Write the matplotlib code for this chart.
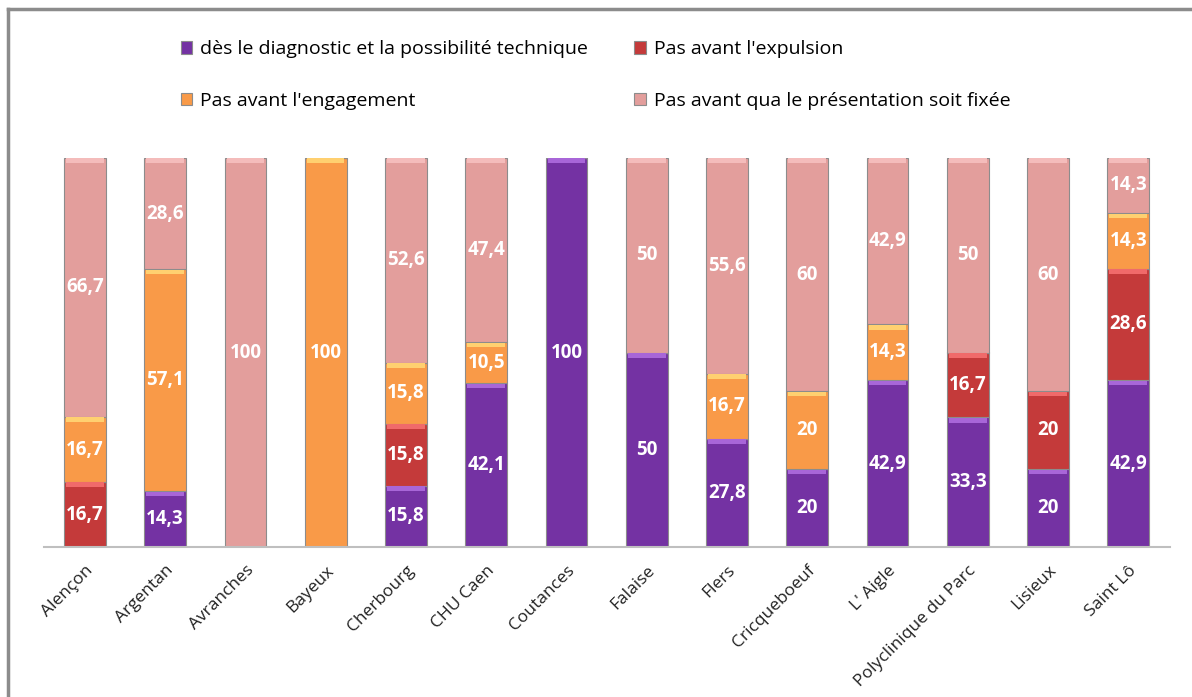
import matplotlib
matplotlib.use("Agg")
import matplotlib.pyplot as plt
from matplotlib.lines import Line2D
import numpy as np

# ---- data ------------------------------------------------------------------ #
SITES = ["Alençon", "Argentan", "Avranches", "Bayeux", "Cherbourg", "CHU Caen",
         "Coutances", "Falaise", "Flers", "Cricqueboeuf", "L' Aigle",
         "Polyclinique du Parc", "Lisieux", "Saint Lô"]
DIAG = [0, 14.3, 0, 0, 15.8, 42.1, 100, 50, 27.8, 20, 42.9, 33.3, 20, 42.9]
EXPULSION = [16.7, 0, 0, 0, 15.8, 0, 0, 0, 0, 0, 0, 16.7, 20, 28.6]
ENGAGEMENT = [16.7, 57.1, 0, 100, 15.8, 10.5, 0, 0, 16.7, 20, 14.3, 0, 0, 14.3]
PRESENTATION = [66.7, 28.6, 100, 0, 52.6, 47.4, 0, 50, 55.6, 60, 42.9, 50, 60, 14.3]

SERIES = [
    ("dès le diagnostic et la possibilité technique", DIAG, "#7432a3", "#a866d8"),
    ("Pas avant l'expulsion", EXPULSION, "#c43a3a", "#f06a6a"),
    ("Pas avant l'engagement", ENGAGEMENT, "#f99a48", "#ffd070"),
    ("Pas avant qua le présentation soit fixée", PRESENTATION, "#e39e9c", "#f4bcbb"),
]

plt.rcParams["font.family"] = ["Open Sans", "DejaVu Sans"]

fig = plt.figure(figsize=(11.92, 6.97), dpi=100)
ax = fig.add_axes([44 / 1192, 1 - 547 / 697, (1170 - 44) / 1192, (547 - 158) / 697])

x = np.arange(len(SITES))
W = 0.52
bottom = np.zeros(len(SITES))
for label, vals, col, light in SERIES:
    vals = np.array(vals, dtype=float)
    ax.bar(x, vals, W, bottom=bottom, color=col, edgecolor="#8c8c8c",
           linewidth=0.8, label=label, zorder=2)
    # light bevel strip at the top of each segment
    ax.bar(x, np.where(vals > 0, 1.2, 0), W * 0.9, bottom=bottom + vals - 1.3,
           color=light, linewidth=0, zorder=3)
    for xi, v, b in zip(x, vals, bottom):
        if v > 0:
            ax.text(xi, b + v / 2, f"{v:g}".replace(".", ","), ha="center",
                    va="center", color="white", fontsize=13.5, fontweight="bold",
                    zorder=4)
    bottom += vals

ax.set_xlim(-0.51, 13.52)
ax.set_ylim(0, 100)
ax.set_yticks([])
for s in ("top", "right", "left"):
    ax.spines[s].set_visible(False)
ax.spines["bottom"].set_color("#bfbfbf")
ax.spines["bottom"].set_linewidth(1.5)
ax.set_xticks(x)
ax.set_xticklabels(SITES, rotation=45, ha="right", rotation_mode="anchor",
                   fontsize=12.5, color="#222222")
ax.tick_params(axis="x", length=0, pad=11)

handles, labels = ax.get_legend_handles_labels()
order = [0, 2, 1, 3]
fig.legend([handles[i] for i in order], [labels[i] for i in order], ncol=2,
           loc="upper left", bbox_to_anchor=(163 / 1192, 1 - 23 / 697),
           frameon=False, fontsize=14, handlelength=0.6, handleheight=0.6,
           handletextpad=0.4, labelspacing=1.7, columnspacing=2.4)

# outer chart frame (top and left edges visible)
fig.add_artist(Line2D([8 / 1192, 1], [1 - 9 / 697, 1 - 9 / 697],
                      color="#8c8c8c", lw=2.5, transform=fig.transFigure))
fig.add_artist(Line2D([8 / 1192, 8 / 1192], [0, 1 - 9 / 697],
                      color="#8c8c8c", lw=2.5, transform=fig.transFigure))

fig.savefig("out.png", dpi=100)
